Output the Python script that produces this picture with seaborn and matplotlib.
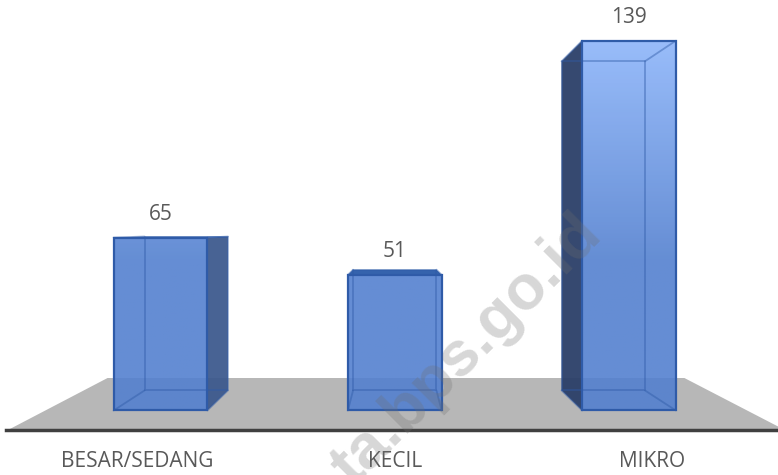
import matplotlib

matplotlib.use("Agg")
import matplotlib.pyplot as plt
import numpy as np
import seaborn as sns
from matplotlib.patches import Polygon

categories = ["BESAR/SEDANG", "KECIL", "MIKRO"]
values = [65, 51, 139]

sns.set_theme(style="white")
plt.rcParams["font.family"] = ["Open Sans", "DejaVu Sans"]

fig = plt.figure(figsize=(7.78, 4.75), dpi=100)
ax = fig.add_axes([6 / 778, 45 / 475, 772 / 778, 430 / 475])

EDGE = "#2f5ba8"
bar_width = 0.4
sns.barplot(x=categories, y=values, color="#5b85d0", width=bar_width, ax=ax, saturation=1)
ax.set_xlim(-0.6595, 2.636)
ax.set_ylim(-7.33, 154.3)

# vanishing point of the fake 3d box, and how far the back plane shrinks
vx, vy = 1.0, 68.6
depth = 0.89


def back(x, y):
    return vx + (x - vx) * depth, vy + (y - vy) * depth


# grey floor, same perspective as the boxes
floor_k = 0.7426
floor_y = -7.33
floor_left, floor_right = -0.6510, 2.6650
floor = [
    (floor_left, floor_y),
    (vx + (floor_left - vx) * floor_k, vy + (floor_y - vy) * floor_k),
    (vx + (floor_right - vx) * floor_k, vy + (floor_y - vy) * floor_k),
    (floor_right, floor_y),
]
ax.add_patch(Polygon(floor, closed=True, facecolor="#b7b7b7", edgecolor="none", zorder=0))

# vertical gradient, only the tall bar reaches the lighter part
ys = np.linspace(0, 139, 140)
low = np.array(matplotlib.colors.to_rgb("#5380cf"))
high = np.array(matplotlib.colors.to_rgb("#8db5fa"))
t = np.clip((ys - 55) / 84, 0, 1)
grad = (low[None, :] * (1 - t[:, None]) + high[None, :] * t[:, None])[:, None, :]

bars = ax.containers[0]
for bar, value in zip(bars, values):
    x0 = bar.get_x()
    x1 = x0 + bar.get_width()
    img = ax.imshow(grad, extent=(x0, x1, 0, 139), origin="lower", aspect="auto", alpha=0.9, zorder=2)
    img.set_clip_path(bar)
    bar.set_facecolor("none")
    bar.set_edgecolor(EDGE)
    bar.set_linewidth(1.6)
    bar.set_zorder(4)

    bx0, by0 = back(x0, 0)
    bx1, by1 = back(x1, value)

    # outer faces that stick out past the front rectangle
    if bx1 > x1:
        side = [(x1, 0), (bx1, by0), (bx1, by1), (x1, value)]
        ax.add_patch(Polygon(side, closed=True, facecolor="#3a578c", alpha=0.93, edgecolor="none", zorder=3))
    if bx0 < x0:
        side = [(x0, 0), (bx0, by0), (bx0, by1), (x0, value)]
        ax.add_patch(Polygon(side, closed=True, facecolor="#2b3f68", alpha=0.95, edgecolor="none", zorder=3))
    if by1 > value:
        top = [(x0, value), (bx0, by1), (bx1, by1), (x1, value)]
        ax.add_patch(Polygon(top, closed=True, facecolor="#3563ad", edgecolor="none", zorder=3))

    # box edges seen through the front
    ax.plot([bx0, bx0, bx1, bx1, bx0], [by0, by1, by1, by0, by0], color=EDGE, lw=1.3, alpha=0.45, zorder=3.5)
    for cx, bx in [(x0, bx0), (x1, bx1)]:
        ax.plot([cx, bx], [0, by0], color=EDGE, lw=1.3, alpha=0.45, zorder=3.5)
        ax.plot([cx, bx], [value, by1], color=EDGE, lw=1.3, alpha=0.45, zorder=3.5)

ax.bar_label(bars, labels=[str(v) for v in values], padding=9, fontsize=15, color="#595959")

# category labels sit on the front of the floor, wider apart than the bars
tick_pos = [vx + (i - vx) * 1.1 for i in range(len(categories))]
ax.set_xticks(tick_pos)
ax.set_xticklabels(categories)
ax.tick_params(axis="x", length=0, pad=15, labelsize=15, labelcolor="#595959")
ax.set_yticks([])
ax.set_xlabel("")
ax.set_ylabel("")

sns.despine(ax=ax, left=True)
ax.spines["bottom"].set_color("#404040")
ax.spines["bottom"].set_linewidth(2.5)

# watermark
fig.text(
    604 / 778,
    1 - 237 / 475,
    "ta.bps.go.id",
    rotation=45,
    rotation_mode="anchor",
    ha="right",
    va="baseline",
    fontsize=45.5,
    fontweight="bold",
    family="Liberation Sans",
    color="#6f6f6f",
    alpha=0.28,
    zorder=10,
)

fig.savefig("out.png", dpi=100)
